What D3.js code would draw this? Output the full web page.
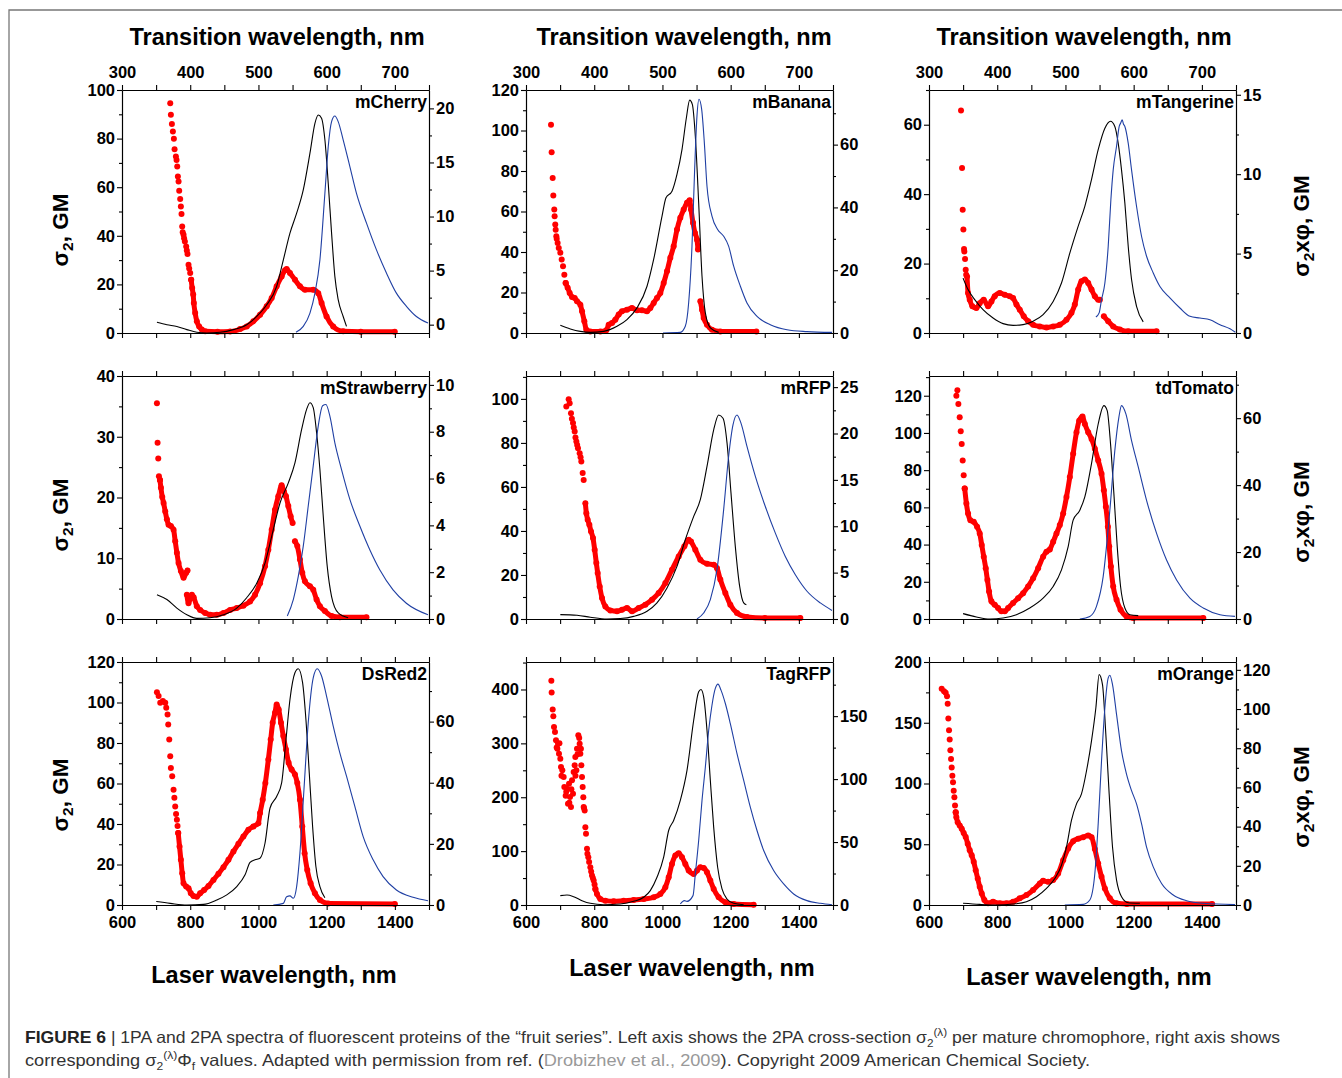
<!DOCTYPE html>
<html><head><meta charset="utf-8">
<script src="https://cdn.jsdelivr.net/npm/d3@7"></script>
<style>
body{margin:0;background:#fff;}
svg{display:block;}
</style></head><body>
<svg id="c" width="1342" height="1078"></svg>
<script>
// ---------------- DATA ----------------
// Red dots: [laser wavelength nm, sigma2 GM (left axis)]; "Sparse" = discrete dots, others = dense dot band (null = gap)
// Black (1PA absorption) and blue (emission): [transition wavelength nm, left-axis units]
const panelNames = ["mCherry","mBanana","mTangerine","mStrawberry","mRFP","tdTomato","DsRed2","TagRFP","mOrange"];
const leftDomains  = [[0,100],[0,120],[0,70],[0,40],[0,110.4],[0,130.6],[0,120],[0,451],[0,200]];
const leftSteps    = [20,20,20,10,20,20,20,100,50];
const rightDomains = [[-0.77,21.7],[0,77.4],[0,15.3],[0,10.38],[0,26.2],[0,72.6],[0,79.5],[0,193],[0,124]];
const rightSteps   = [5,20,5,2,5,20,20,50,20];
const bottomTicks = [600,700,800,900,1000,1100,1200,1300,1400,1500];
const bottomLabels = [600,800,1000,1200,1400];
const topTicks = [300,350,400,450,500,550,600,650,700,750];
const topLabels = [300,400,500,600,700];

const mCherryRedSparse = [[741.4,94.5],[743.3,89.8],[746.3,86],[749.2,82.9],[752.1,79.9],[754.1,75.6],[758,72.6],[759.9,71.2],[761.9,68.5],[763.8,64.4],[765.8,62.3],[767.7,58.5],[770.6,55.1],[772.6,52.1],[774.5,49],[776.5,43.8],[778,41.5],[780.4,40.4],[782,39],[784.3,37.7],[788.2,35.6],[790,34],[792.1,32.5],[795,28.1],[797,26.5],[799.9,24.7],[802.8,21.9]];
const mCherryRed = [[802.8,21.9],[805.7,18.5],[808.7,15.8],[810.6,12.3],[814.5,8.2],[819.4,4.8],[826.2,2.7],[834,1.4],[843.8,0.7],[880,0.5],[916.9,0.6],[946.2,1.6],[965.7,2.7],[985.2,4.8],[1004.7,7.5],[1024.2,11],[1038.8,14.4],[1053.4,19.2],[1068,23.3],[1077.8,25.8],[1082.7,26.3],[1092.4,24.7],[1107.1,21.9],[1121.7,19.2],[1136.3,17.8],[1160.7,17.8],[1175.3,16.4],[1185.1,12.3],[1199.7,6.8],[1219.2,2.7],[1248.4,0.7],[1300,0.5],[1399.6,0.5]];
const mCherryAbs = [[351.2,4.4],[365.8,3.4],[380.4,2.7],[395,1.4],[409.7,0.3],[424.3,0],[443.8,0.3],[463.3,1.4],[482.8,3.4],[497.5,6.8],[512.1,11.6],[526.7,19.2],[536.5,30.1],[546.2,41.1],[556,49.3],[565.7,58.9],[575.5,74],[582.8,86.3],[587.7,89.7],[592.5,88.4],[597.4,79.5],[602.3,61.6],[607.2,41.1],[612,23.3],[616.9,13.7],[624.2,6.8],[629.1,2.7]];
const mCherryEm = [[555,0.3],[565.7,2.7],[575.5,8.2],[582.8,16.4],[590.1,30.1],[597.4,57.5],[602.3,76.7],[607.2,87],[612,89.3],[616.9,87],[624.2,79.5],[634,68.5],[643.7,57.5],[658.4,45.2],[673,34.2],[687.6,24.7],[702.2,16.4],[716.9,11],[731.5,6.8],[748.5,4.1]];

const mBananaRedSparse = [[673.3,102.9],[675.2,89.3],[678.2,76.5],[680.1,67.9],[682.9,61],[683.9,57.7],[685.8,53.6],[687,51],[688.9,47.8],[690,46.5],[692.8,44.5],[696,42],[700.6,39.6],[704.6,36.3],[708.5,33],[712.4,28.8],[716.3,24.7]];
const mBananaRed = [[716.3,24.7],[722.1,22.3],[728,19.8],[734.9,17.8],[742.7,17.3],[749.5,15.7],[759.3,14],[764.2,10.7],[771,5.8],[776.9,1.6],[788.6,0.8],[817.9,0.8],[835.5,1.3],[842.4,4.1],[852.1,4.9],[861.9,6.6],[871.7,9.1],[881.4,10.7],[896.1,11.5],[910.7,12.4],[925.4,11.2],[940.1,11.2],[954.7,10.7],[964.5,12.4],[974.3,14.8],[984,17.3],[993.8,19.8],[1003.6,24.7],[1013.4,30.5],[1023.1,37.1],[1032.9,42.9],[1042.7,51.1],[1052.4,56.9],[1062.2,61],[1072,64.3],[1079.8,65.5],[1083.7,61],[1089.6,54.4],[1095.4,49.4],[1101.3,46.1],[1104.2,41.2],null,[1111.1,15.7],[1116,11.5],[1120.9,7.4],[1130.6,4.1],[1145.3,1.6],[1169.7,0.8],[1275.3,0.8]];
const mBananaAbs = [[350.3,3.8],[365,2],[379.6,0.8],[394.3,0.3],[413.8,0.8],[433.4,3.3],[448,6.6],[462.7,12.4],[477.4,23.1],[487.1,36.3],[499.4,57.7],[505.2,66.8],[514,70],[521.3,78.3],[528.7,90.7],[535.1,106.3],[539.9,115],[543.8,112.9],[548.2,97.2],[553.1,64.3],[558,28],[562.9,9.9],[570.2,2.5],[582.4,0.3]];
const mBananaEm = [[500.8,0],[526.2,0.3],[533.5,3.3],[538.4,14.8],[543.3,42.9],[547.2,80.8],[550.6,107.1],[553.6,115.4],[557.5,110.4],[561.4,94],[565.3,72.5],[572.6,57.7],[580.9,51.1],[589.7,47.8],[597,42.9],[604.4,33],[614.2,23.1],[623.9,14.8],[638.6,8.2],[658.1,4.1],[682.6,1.6],[711.9,0.7],[748.5,0.3]];

const mTangerineRedSparse = [[693.9,64.1],[696.9,47.5],[698.8,35.5],[700.8,29.8],[702.7,24.2],[703.5,23.5],[705.7,21.3],[707.6,18.2],[709,16.8]];
const mTangerineRed = [[711.5,16.3],[714.5,11.5],[719.4,9.6],[727.2,7.7],[738.9,7.2],[748.7,8.6],[760.4,9.6],[773.2,7.7],[783,9.1],[792.7,10.6],[807.4,11.5],[822.1,11],[836.8,10.6],[846.5,10.1],[856.3,8.2],[866.1,6.7],[877.8,4.8],[890.6,3.4],[905.2,2.4],[924.8,1.9],[944.4,1.6],[963.9,1.9],[983.5,2.4],[1003,3.8],[1017.7,5.8],[1027.5,8.2],[1037.3,12.5],[1047.1,14.9],[1056.9,15.4],[1066.7,14.4],[1076.5,12.5],[1086.2,10.6],[1096,9.6],[1100.9,9.6],null,[1112.6,4.8],[1125.3,3.4],[1140,1.9],[1159.6,1],[1184,0.5],[1267.2,0.5]];
const mTangerineAbs = [[349.9,15.8],[357.2,12.5],[367,9.6],[379.2,6.7],[393.9,4.3],[408.6,2.7],[423.3,2.2],[437.9,2.4],[452.6,3.4],[467.3,5.3],[482,9.1],[494.2,14.4],[506.4,23],[518.6,30.7],[528.4,36.5],[538.2,44.2],[548,52.8],[557.8,59],[566.1,61],[572.4,59.5],[577.3,54.7],[582.2,47],[587.1,37.4],[592,25],[596.9,15.4],[604.2,7.7],[614,3.2]];
const mTangerineEm = [[544.6,4.6],[549.4,5.8],[552.9,9.6],[557.8,14.4],[562.7,25],[566.6,38.4],[570,47],[574.9,53.8],[578.8,59.5],[581,60.5],[583.2,61.4],[585,60.2],[587.1,59.5],[592,54.7],[596.9,47],[604.2,36.5],[611.6,27.8],[618.9,22.1],[628.7,17.3],[638.5,13.4],[653.1,10.1],[667.8,7.2],[682.5,4.8],[697.1,4.3],[711.8,3.8],[726.5,2.4],[741.2,1.2],[749,0.2]];

const mStrawberryRedSparse = [[702.4,35.5],[704.3,29],[706.3,26.4],[708.2,23.5],[711.2,22.9]];
const mStrawberryRed = [[711.2,22.9],[714.1,21.6],[718,20.1],[721.9,19.1],[726.8,17.7],[731.6,16.4],[736.5,15.5],[743.3,15.3],[751.1,14.7],[756,12.8],[760.9,10.9],[765.8,9.2],[772.6,7.9],[780.4,6.8],[788.2,7.6],[792.1,8],null,[790.1,4],[795,2.6],[804.8,4],[810,3.6],[819.4,2.1],[829.1,1.5],[843.8,1],[858.4,0.7],[877.9,0.7],[897.4,1],[916.9,1.5],[936.4,1.8],[955.9,2.2],[975.4,2.9],[990,4],[1004.7,5.9],[1019.3,8.7],[1029,11.4],[1038.8,14.7],[1048.5,18],[1058.3,20.2],[1068,22],[1074.9,21],[1080.7,20.2],[1087.5,18.6],[1094.4,16.9],[1100.2,15.8],null,[1107,12.8],[1113.9,12],[1121.7,9.8],[1128.5,7.6],[1136.3,6.2],[1150.9,5.4],[1160.7,4.8],[1170.4,3.2],[1180.2,2.1],[1194.8,1.3],[1214.3,0.5],[1238.7,0.3],[1316.7,0.3]];
const mStrawberryAbs = [[351.2,4],[365.8,3.2],[380.4,1.8],[395.1,0.7],[409.7,0.1],[429.2,0.2],[448.7,0.7],[468.2,1.8],[482.8,3.5],[497.5,5.9],[509.6,9.2],[519.4,13.6],[531.6,19.1],[543.8,22.4],[553.5,25.7],[563.3,31.2],[570.6,34.5],[575.5,35.6],[580.3,34.8],[585.2,30.7],[590.1,24.6],[595,16.9],[600.8,8.7],[607.2,3.7],[617,1],[631.5,0.2]];
const mStrawberryEm = [[542.3,0.5],[551.1,3.2],[558.4,7],[565.7,12],[573,18.6],[580.3,25.2],[587.7,31.8],[594,35.1],[598.9,35.3],[604.7,33.4],[612,29],[621.8,24.6],[634,19.7],[648.6,15.3],[663.2,11.4],[677.8,8.1],[697.3,4.8],[716.8,2.6],[748.5,0.7]];

const mRFPRedSparse = [[718.2,96.5],[725.1,99.8],[728,98],[731.9,93.5],[734.5,91],[737.8,89],[740,87],[742.7,85.2],[745,82.5],[747.6,80.6],[750,79],[752.4,77.6],[757.3,75.3],[760,73.5],[762.2,71.6],[766.1,66.3],[769.1,63.2]];
const mRFPRed = [[774,52.6],[776.9,48.1],[780.8,45.1],[785.7,42.8],[790.6,39.8],[796.4,36.8],[801.3,31.5],[806.2,25.4],[810.1,20.9],[816,14.8],[822.8,9.5],[832.6,5.7],[847.2,3.9],[866.8,3.5],[881.4,4.2],[896.1,5],[910.7,3.5],[930.3,5],[949.8,6.5],[969.4,8.8],[988.9,11.8],[1008.5,16.3],[1028,22.4],[1047.6,28.4],[1064.2,33],[1076.9,36],[1083.7,35.2],[1096.4,31.5],[1111.1,26.9],[1130.6,25.1],[1150.2,24.7],[1159.9,23.1],[1169.7,17.9],[1184.4,11.8],[1199,6.5],[1218.6,2.7],[1247.9,0.9],[1300,0.5],[1404.2,0.5]];
const mRFPAbs = [[350.3,2],[374.8,1.7],[394.3,0.8],[418.7,0],[438.3,0.2],[457.8,1.2],[477.4,3.5],[492,7.3],[506.7,14.1],[521.3,23.9],[533.5,36],[545.8,46.6],[555.5,54.2],[565.3,69.3],[575.1,85.9],[582.4,92.7],[588.8,91.2],[594.7,79.9],[600.5,57.2],[606.8,33],[613.2,14.8],[619.1,7.3],[623,6.5]];
const mRFPEm = [[550.6,0],[560.4,2.7],[570.2,8.8],[579.9,22.4],[589.7,49.6],[597,73.8],[603.4,88.2],[609.3,92.7],[615.1,89],[623.9,78.4],[636.2,64.8],[650.8,51.1],[665.5,39],[680.1,28.4],[694.8,20.1],[711.9,12.6],[731.4,7.3],[748.5,3.9]];

const tdTomatoRedSparse = [[680.2,120],[683.2,123],[686.1,115.5],[690,108.4],[693,100.9],[695.9,94.1],[698.8,85.2],[701.7,77.2],[704.7,70.1]];
const tdTomatoRed = [[704.7,70.1],[709.6,62.1],[714.5,56.7],[721.3,53.1],[731.1,52.2],[740.9,49.6],[748.7,46],[754.6,39.8],[760.5,33.5],[766.3,27.3],[771.2,21],[776.1,14.8],[783,9.5],[792.7,7.7],[802.5,5.9],[812.3,4.1],[822.1,4.1],[831.9,5.9],[846.5,8.6],[861.2,11.2],[875.9,13.9],[890.6,17.5],[905.2,21.9],[919.9,27.3],[934.6,33.5],[944.4,36.2],[954.2,37.4],[964,41.5],[973.7,46],[983.5,50.5],[993.3,56.7],[1003,65.6],[1012.8,76.3],[1022.6,88.8],[1032.4,100.4],[1040.2,106.6],[1050,108.8],[1056.9,104.8],[1066.7,100.4],[1076.5,96.8],[1086.2,91.5],[1096,85.2],[1105.8,78.1],[1112.6,69.2],[1118.5,60.3],[1124.4,49.6],[1128.3,38.9],[1133.2,28.2],[1140,17.5],[1149.8,10.3],[1161.5,5],[1179.1,1.4],[1198.7,0.5],[1404.2,0.5]];
const tdTomatoAbs = [[349.9,2.9],[369.5,1.1],[389,0],[408.6,0.5],[428.1,2.3],[447.7,5.9],[467.3,11.2],[482,17.5],[494.2,26.4],[504,38.9],[511.3,53.1],[521.1,58.5],[528.4,65.6],[538.2,83.5],[548,104.8],[556.3,114.7],[561.2,112],[566.1,94.1],[571,67.4],[575.9,38.9],[580.8,17.5],[587.1,5.9],[594.5,2.3],[606.7,1.8]];
const tdTomatoEm = [[521.1,0],[535.7,1.4],[545.5,6.8],[555.3,22.8],[565.1,58.5],[572.4,90.6],[578.3,108.4],[582.2,114.7],[588.6,110.2],[596.9,95.9],[606.7,81.7],[618.9,63.8],[633.6,46],[648.2,31.7],[662.9,21],[682.5,11.2],[702,5.9],[726.5,2.3],[748.5,1.4]];

const DsRed2RedSparse = [[702.4,105.1],[707.3,103.2],[712.1,99.9],[719.9,100.7],[726.8,99.9],[729.7,97.4],[733.6,94.1],[735.5,89.1],[738.5,81.7],[741.4,73.5],[743.3,67.7],[747.2,63.6],[751.1,56.9],[753.5,53],[756,48.7],[758.5,45],[760.9,42.1],[762.8,39],[764.8,35.5]];
const DsRed2Red = [[764.8,35.5],[768.7,28.9],[772.6,22.3],[776.5,15.7],[780.4,10.7],[788.2,9.1],[795,8.3],[801.8,5.8],[809.6,4.5],[819.4,4.1],[829.1,5.8],[840.8,7.4],[853.5,9.4],[868.1,12.4],[882.8,15.4],[897.4,18.7],[912.1,22.3],[926.7,26.4],[941.3,30.2],[955.9,33.8],[970.5,37.1],[985.2,38.8],[999.8,40.4],[1004.7,45.4],[1012.5,52],[1020.3,60.3],[1029,71.8],[1035.9,81.7],[1041.7,90],[1048.5,94.9],[1053.4,99],[1059.3,96.6],[1066.1,90],[1072.9,83.4],[1080.7,76.8],[1088.5,70.2],[1097.3,66.9],[1107,64.4],[1113.9,60.3],[1121.7,52],[1128.5,38.8],[1135.4,25.6],[1143.1,17.3],[1152.9,10.7],[1165.6,5.8],[1180.2,2.5],[1204.6,0.8],[1400,0.5]];
const DsRed2Abs = [[350.2,1.7],[370.7,0.8],[395.1,0],[419.4,0.3],[439,2.5],[453.6,5],[468.2,9.1],[480.4,14.9],[487.7,21],[495,22.3],[502.3,23.1],[509.6,30.5],[517,47.9],[526.7,53.6],[534,60.3],[540.4,81.7],[546.2,101.5],[553.5,114.7],[558.4,116.7],[564.7,109.8],[569.6,91.6],[574.5,65.2],[579.4,38.8],[584.2,19],[590.1,9.1],[597.4,3.6]];
const DsRed2Em = [[521.8,0],[536.5,0.8],[541.3,4.1],[546.2,4.5],[551.1,3.3],[556,9.1],[560.8,25.6],[566.7,56.9],[573,90],[580.3,112.2],[586.2,116.7],[592.5,113.1],[599.8,103.2],[609.6,88.3],[619.3,75.1],[629.1,63.6],[641.3,48.7],[653.5,33.8],[668.1,22.3],[682.7,14],[702.2,7.4],[726.6,3.8],[748.5,2.1]];

const TagRFPRedSparse = [[674.3,416.1],[675.2,394.4],[678.2,362.8],[680.1,350.4],[682.1,330.5],[685,321.2],[687.9,305.7],[689.9,292.1],[692,290],[693.8,299.5],[696.7,280.9],[698,300],[700.6,271.6],[702.6,256.1],[704,240],[706.5,249.9],[710.4,237.5],[712.4,218.9],[716.3,202.8],[718,210],[720.2,215.8],[723.1,187.9],[726.1,225.1],[727,190],[729,200.3],[731.9,181.7],[733,215],[734.9,231.3],[737.8,206.5],[739.7,246.8],[742.7,259.2],[744.6,274.7],[745,240],[747.6,249.9],[749.5,290.2],[751,280],[753.4,315],[756,310],[757.3,299.5],[759.3,280.9],[761,290],[762.2,259.2],[764.2,237.5],[766.1,218.9],[768,200],[769.1,181.7],[770,180],[772,175.5],[774,144.5],[775.9,132.1],[778.8,104.2],[780,95],[782.7,88.7],[785,80],[788.6,70.1],[791,62],[793.5,54.6],[796,50],[798.4,45.3],[801,38],[803.3,29.8]];
const TagRFPRed = [[803.3,29.8],[808.1,20.5],[817.9,11.2],[832.6,8.1],[857,6.8],[886.3,8.1],[915.6,9.3],[945,11.2],[974.3,14.3],[993.8,20.5],[1008.5,32.9],[1018.3,51.5],[1028,76.3],[1037.8,91.8],[1047.6,96.1],[1057.3,88.7],[1067.1,76.3],[1076.9,63.9],[1091.5,57.7],[1101.3,63.9],[1111.1,70.1],[1120.9,68.8],[1130.6,60.8],[1140.4,45.3],[1150.2,29.8],[1164.8,14.3],[1184.4,5],[1208.8,1.9],[1267.4,0.6]];
const TagRFPAbs = [[350.3,17.4],[360.1,18.6],[369.9,15.5],[382.1,8.1],[394.3,3.1],[413.8,0.6],[438.3,1.9],[457.8,6.8],[472.5,14.3],[482.2,26.7],[492,51.5],[501.8,88.7],[509.1,138.3],[516.4,156.9],[526.2,194.1],[536,249.9],[545.8,342.9],[553.1,395.7],[556.5,400],[560.4,386.4],[565.3,324.3],[570.2,231.3],[575.1,144.5],[580.9,70.1],[587.3,29.8],[594.6,11.2],[604.4,3.1],[619.1,0.6]];
const TagRFPEm = [[526.2,1.9],[532.1,8.1],[536,6.8],[544.8,17.4],[548.2,57.7],[553.1,119.7],[558,194.1],[562.9,256.1],[567.8,324.3],[572.6,370.8],[577.5,401.9],[581.4,409.9],[585.8,398.8],[592.2,374],[599.5,336.7],[609.3,280.9],[619.1,231.3],[628.8,181.7],[638.6,138.3],[648.4,101.1],[663,63.9],[677.7,39.1],[692.3,20.5],[711.9,8.1],[731.4,3.1],[748.5,0.6]];

const mOrangeRedSparse = [[637.2,177.9],[644,176],[648.9,174.6],[652.8,171.9],[654.8,165.6],[656.7,153.6],[658.7,143.8],[660.7,136.2],[662.6,127.4],[664.6,120.1],[666.5,113.2],[668.5,106.4],[670.4,101],[672.4,94.1],[674.4,88.7],[676.3,81.9],[678.3,76.4]];
const mOrangeRed = [[678.3,76.4],[680.2,72.3],[684.1,68.2],[690,65.5],[695.9,62.8],[701.7,59.2],[707.6,55.9],[713.5,50.5],[719.4,45],[725.2,40.9],[731.1,35.5],[737,28.6],[742.8,21.8],[748.7,15],[754.6,9.5],[762.4,4.1],[773.2,1.4],[787.8,2.7],[807.4,1.4],[827,1.4],[846.5,2.7],[866.1,5.5],[885.7,8.2],[905.2,12.3],[924.8,17.7],[934.6,19.9],[949.3,19.1],[963.9,20.5],[978.6,25.9],[993.3,36.8],[1007.9,46.4],[1022.6,52.5],[1037.3,54.5],[1052,55.8],[1066.7,57.2],[1076.5,55.8],[1086.2,46],[1096,34.1],[1105.8,23.2],[1115.6,13.6],[1130.2,5.5],[1149.8,1.4],[1180,0.8],[1430,0.8]];
const mOrangeAbs = [[349.9,1.4],[374.3,0.5],[398.8,0],[423.3,0.8],[442.8,2.7],[457.5,6.8],[472.2,13.6],[484.4,21.8],[494.2,32.7],[501.5,47.7],[508.8,69.6],[516.2,83.2],[523.5,91.4],[530.9,110.5],[538.2,135.1],[544.6,162.3],[549.4,189.6],[554.3,181.4],[559.2,140.5],[564.1,91.4],[569,47.7],[574.9,20.5],[582.2,6.8],[592,1.9],[609.1,1.4]];
const mOrangeEm = [[499,0],[525.9,0.5],[535.7,4.1],[543.1,25.9],[548,66.8],[552.9,118.7],[557.8,162.3],[562.7,186.9],[565.1,189.1],[569,181.4],[574.9,156.9],[582.2,126.9],[589.5,107.8],[596.9,94.1],[604.2,83.2],[611.6,66.8],[618.9,47.7],[628.7,31.4],[640.9,17.7],[658,8.2],[677.6,3.5],[702,1.4],[748.5,0.3]];

// ---------------- DRAWING ----------------
const FONT = '"Liberation Sans", Arial, Helvetica, sans-serif';
const svg = d3.select("#c");
const W = 307, H = 243;
const colX = [122, 526, 929], rowY = [90, 376, 662];

const panelData = [
  [mCherryRedSparse, mCherryRed, mCherryAbs, mCherryEm],
  [mBananaRedSparse, mBananaRed, mBananaAbs, mBananaEm],
  [mTangerineRedSparse, mTangerineRed, mTangerineAbs, mTangerineEm],
  [mStrawberryRedSparse, mStrawberryRed, mStrawberryAbs, mStrawberryEm],
  [mRFPRedSparse, mRFPRed, mRFPAbs, mRFPEm],
  [tdTomatoRedSparse, tdTomatoRed, tdTomatoAbs, tdTomatoEm],
  [DsRed2RedSparse, DsRed2Red, DsRed2Abs, DsRed2Em],
  [TagRFPRedSparse, TagRFPRed, TagRFPAbs, TagRFPEm],
  [mOrangeRedSparse, mOrangeRed, mOrangeAbs, mOrangeEm]
];

// frame
svg.append("path").attr("d", "M9,1078 V10 H1342").attr("fill", "none").attr("stroke", "#777").attr("stroke-width", 1.3);

function ticksFrom(d0, d1, step, offset) {
  const out = [];
  for (let k = Math.ceil((d0 - offset) / step - 1e-9); k * step + offset <= d1 + 1e-9; k++) out.push(+(k * step + offset).toFixed(6));
  return out;
}
function styleAxis(sel) {
  sel.attr("font-family", FONT).attr("font-size", 16.5).attr("font-weight", "bold");
  sel.selectAll(".domain").attr("stroke", "#000").attr("stroke-width", 1.1);
  sel.selectAll(".tick line").attr("stroke", "#000").attr("stroke-width", 1.1);
  sel.selectAll(".tick text").attr("fill", "#000");
}

panelNames.forEach((name, i) => {
  const row = Math.floor(i / 3), col = i % 3;
  const g = svg.append("g").attr("transform", `translate(${colX[col]},${rowY[row]})`);
  const xB = d3.scaleLinear().domain([600, 1500]).range([0, W]);
  const xT = d3.scaleLinear().domain([300, 750]).range([0, W]);
  const yL = d3.scaleLinear().domain(leftDomains[i]).range([H, 0]);
  const yR = d3.scaleLinear().domain(rightDomains[i]).range([H, 0]);
  const [sparse, band, abs, em] = panelData[i];

  const clipId = "clip" + i;
  g.append("clipPath").attr("id", clipId).append("rect").attr("x", -3).attr("y", -6).attr("width", W + 6).attr("height", H + 9);
  const plot = g.append("g").attr("clip-path", `url(#${clipId})`);

  const lineT = d3.line().defined(d => d).x(d => xT(d[0])).y(d => yL(d[1])).curve(d3.curveMonotoneX);
  const lineB = d3.line().defined(d => d).x(d => xB(d[0])).y(d => yL(d[1])).curve(d3.curveMonotoneX);

  // red band + dots
  plot.append("path").datum(band).attr("d", lineB).attr("fill", "none").attr("stroke", "#ff0000").attr("stroke-width", 5).attr("stroke-linejoin", "round").attr("stroke-linecap", "round");
  plot.append("g").selectAll("circle").data(band.filter(d => d).concat(sparse)).join("circle")
    .attr("cx", d => xB(d[0])).attr("cy", d => yL(d[1])).attr("r", 3).attr("fill", "#ff0000");
  // black absorption and blue emission
  plot.append("path").datum(abs).attr("d", lineT).attr("fill", "none").attr("stroke", "#000").attr("stroke-width", 1.1);
  plot.append("path").datum(em).attr("d", lineT).attr("fill", "none").attr("stroke", "#1f3fa3").attr("stroke-width", 1.1);

  // axes
  const ld = leftDomains[i], rd = rightDomains[i], ls = leftSteps[i], rs = rightSteps[i];
  const fmt = d3.format("d");
  g.append("g").call(d3.axisLeft(yL).tickValues(ticksFrom(ld[0], ld[1], ls, ls / 2)).tickSize(3).tickSizeOuter(0).tickFormat("")).call(styleAxis);
  g.append("g").call(d3.axisLeft(yL).tickValues(ticksFrom(ld[0], ld[1], ls, 0)).tickSize(5).tickSizeOuter(0).tickPadding(2).tickFormat(fmt)).call(styleAxis);
  g.append("g").attr("transform", `translate(${W},0)`).call(d3.axisRight(yR).tickValues(ticksFrom(rd[0], rd[1], rs, rs / 2)).tickSize(3).tickSizeOuter(0).tickFormat("")).call(styleAxis);
  g.append("g").attr("transform", `translate(${W},0)`).call(d3.axisRight(yR).tickValues(ticksFrom(rd[0], rd[1], rs, 0)).tickSize(5).tickSizeOuter(0).tickPadding(2).tickFormat(fmt)).call(styleAxis);
  g.append("g").call(d3.axisTop(xT).tickValues(topTicks).tickSize(5).tickSizeOuter(0).tickPadding(7)
    .tickFormat(d => (row === 0 && topLabels.includes(d)) ? fmt(d) : "")).call(styleAxis);
  g.append("g").attr("transform", `translate(0,${H})`).call(d3.axisBottom(xB).tickValues(bottomTicks).tickSize(5).tickSizeOuter(0).tickPadding(6)
    .tickFormat(d => (row === 2 && bottomLabels.includes(d)) ? fmt(d) : "")).call(styleAxis);

  // panel name
  g.append("text").attr("x", W - 2).attr("y", 18).attr("text-anchor", "end")
    .attr("font-family", FONT).attr("font-size", 17.5).attr("font-weight", "bold").text(name);
});

// column titles
const topTitleCx = [277, 684, 1084];
topTitleCx.forEach(cx => {
  svg.append("text").attr("x", cx).attr("y", 45).attr("text-anchor", "middle")
    .attr("font-family", FONT).attr("font-size", 23.5).attr("font-weight", "bold").text("Transition wavelength, nm");
});
const botTitle = [[274, 983], [692, 976], [1089, 985]];
botTitle.forEach(([cx, y]) => {
  svg.append("text").attr("x", cx).attr("y", y).attr("text-anchor", "middle")
    .attr("font-family", FONT).attr("font-size", 23.5).attr("font-weight", "bold").text("Laser wavelength, nm");
});

// y titles
function sigmaLabel(x, y, rest) {
  const t = svg.append("text").attr("transform", `translate(${x},${y}) rotate(-90)`).attr("text-anchor", "middle")
    .attr("font-family", FONT).attr("font-size", 22.5).attr("font-weight", "bold");
  t.append("tspan").text("σ");
  t.append("tspan").attr("dy", 5).attr("font-size", 15.5).text("2");
  t.append("tspan").attr("dy", -5).text(rest);
}
[230, 515, 795].forEach(cy => sigmaLabel(68, cy, ", GM"));
[226, 512, 797].forEach(cy => sigmaLabel(1309, cy, "xφ, GM"));

// caption
function caption(y, parts, len) {
  const t = svg.append("text").attr("x", 25).attr("y", y).attr("font-family", FONT).attr("font-size", 16.5).attr("fill", "#333")
    .attr("textLength", len).attr("lengthAdjust", "spacingAndGlyphs");
  parts.forEach(p => {
    const s = t.append("tspan").text(p.t);
    if (p.b) s.attr("font-weight", "bold").attr("fill", "#222");
    if (p.dy) s.attr("dy", p.dy);
    if (p.fs) s.attr("font-size", p.fs);
    if (p.c) s.attr("fill", p.c);
  });
}
caption(1043, [
  {t: "FIGURE 6", b: true},
  {t: " | 1PA and 2PA spectra of fluorescent proteins of the “fruit series”. Left axis shows the 2PA cross-section σ"},
  {t: "2", dy: 4, fs: 11},
  {t: "(λ)", dy: -11, fs: 11},
  {t: " per mature chromophore, right axis shows", dy: 7}
], 1255);
caption(1066, [
  {t: "corresponding σ"},
  {t: "2", dy: 4, fs: 11},
  {t: "(λ)", dy: -11, fs: 11},
  {t: "Φ", dy: 7},
  {t: "f", dy: 4, fs: 11},
  {t: " values. Adapted with permission from ref. (", dy: -4},
  {t: "Drobizhev et al., 2009", c: "#999"},
  {t: "). Copyright 2009 American Chemical Society."}
], 1065);
</script></body></html>
